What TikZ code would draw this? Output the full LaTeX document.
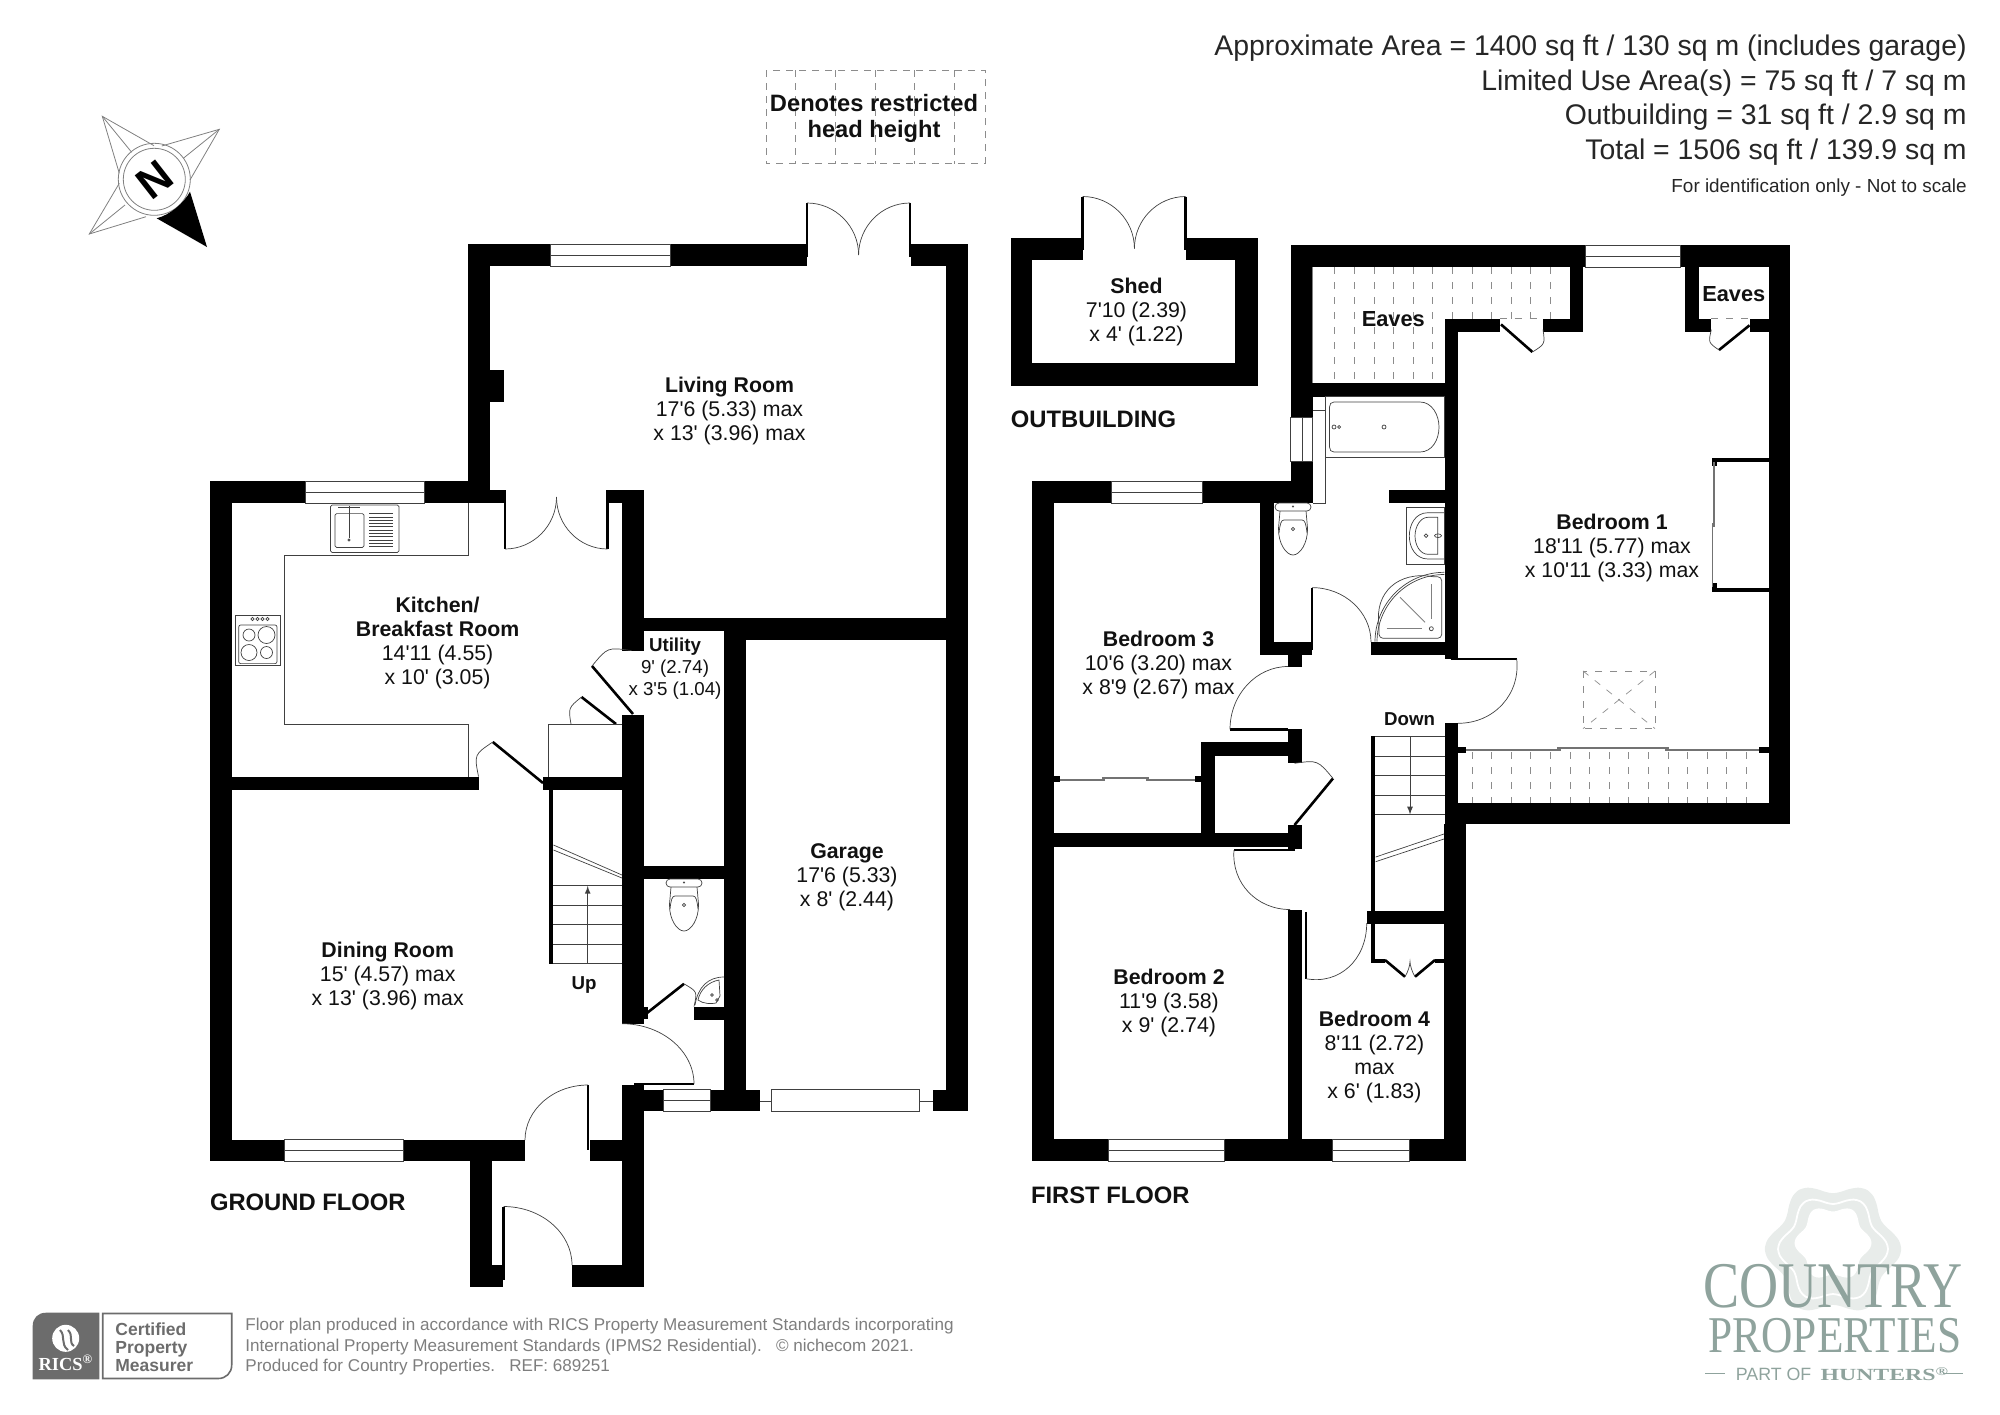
\documentclass[tikz,border=0pt]{standalone}
\usepackage{fontspec}
\usepackage{tikz}
\newfontfamily\planfont{Liberation Sans}
\newfontfamily\logofont{Liberation Serif}
\definecolor{LogoGreen}{HTML}{8FA39D}
\definecolor{LogoPale}{HTML}{E8ECEA}
\definecolor{BadgeGrey}{HTML}{6C6C6C}
\definecolor{FootGrey}{HTML}{7E7E7E}
\definecolor{FontColor}{HTML}{111111}
\newcommand\roomfont{\planfont\fontsize{10.65}{12}\selectfont}
\newcommand\smallroomfont{\planfont\fontsize{9.35}{11}\selectfont}
\newcommand\floorfont{\planfont\bfseries\fontsize{11.9}{14}\selectfont}
\newcommand\areafont{\planfont\fontsize{14.2}{17.2}\selectfont}
\newcommand\footfont{\planfont\fontsize{8.54}{10.2}\selectfont}
\newcommand\ft{\textquotesingle}
\tikzstyle{wall} = [fill=black]
\tikzstyle{thinline} = [draw=black!75, line width=0.35pt]
\tikzstyle{greyline} = [draw=black!50, line width=0.4pt]
\tikzstyle{leaf} = [draw=black, line width=1.3pt]
\tikzstyle{stairline} = [draw=black, line width=2pt]
\tikzstyle{slide} = [draw=black!55, line width=0.9pt]
\tikzstyle{eave} = [draw=black!45, line width=0.35pt, dash pattern=on 3.5pt off 4pt]
\tikzstyle{room} = [inner sep=0pt, align=center, text=FontColor, font=\roomfont, yshift=-1.25pt]
\tikzstyle{smallroom} = [inner sep=0pt, align=center, text=FontColor, font=\smallroomfont, yshift=-1.25pt]
\tikzstyle{tag} = [inner sep=0pt, text=FontColor, font=\planfont\bfseries\fontsize{9.35}{11}\selectfont]
\tikzstyle{floorname} = [inner sep=0pt, anchor=west, text=FontColor, font=\floorfont, yshift=-0.5pt]
\tikzstyle{area} = [inner sep=0pt, anchor=east, text=black!85, font=\areafont, yshift=-1.25pt]
\tikzstyle{foot} = [inner sep=0pt, anchor=west, text=FootGrey, font=\footfont, yshift=-1.25pt]
\newcommand\swing[6]{\draw[thinline] (#3,#4) .. controls ({#3+0.55*(#5-#1)},{#4+0.55*(#6-#2)}) and ({#5+0.55*(#3-#1)},{#6+0.55*(#4-#2)}) .. (#5,#6);}
\newcommand\swingd[6]{\draw[thinline] (#3,#4) .. controls ({#1+1.2*(0.5*(#3+#5)-#1)},{#2+1.2*(0.5*(#4+#6)-#2)}) .. (#5,#6);}
\newcommand\windowh[3]{\draw[thinline] (#1,#3) rectangle (#2,#3+22); \draw[thinline] (#1,#3+11) -- (#2,#3+11);}
\newcommand\toilet[2]{
\draw[thinline, rounded corners=2pt] (#1-18,#2) rectangle (#1+18,#2+8);
\draw[thinline] (#1-13,#2+8) -- (#1-14.5,#2+25) .. controls (#1-15,#2+40) and (#1-7,#2+52) .. (#1,#2+52) .. controls (#1+7,#2+52) and (#1+15,#2+40) .. (#1+14.5,#2+25) -- (#1+13,#2+8);
\draw[thinline] (#1-14,#2+30) .. controls (#1-13,#2+21) and (#1-12,#2+17) .. (#1-9,#2+17) -- (#1+9,#2+17) .. controls (#1+12,#2+17) and (#1+13,#2+21) .. (#1+14,#2+30);
\draw[thinline] (#1,#2+26) circle (1.6);
\fill[black!70] (#1,#2+3.5) circle (1.2);
}
\begin{document}
\begin{tikzpicture}[x=0.5pt, y=-0.5pt]
\useasboundingbox (0,0) rectangle (2000,1414);
\foreach \xa/\ya/\xb/\yb in {
468/244/550/266, 670/244/806.5/266, 910.6/244/968/266, 468/244/490/503,
209.6/481/305.5/503.3, 424/481/468/503.3, 490/490/504.5/503, 490/370/503.5/401.5,
607.5/490/644/503, 622/490/644/650.6, 622/715.4/644/1023.7, 644/1006.5/648/1019.4,
644/618/968/631, 746/618/968/640, 724.4/618/746.3/1090, 946/244/968/1111,
644/865.5/724.4/879, 694/1006.5/724.4/1020.3, 209.6/481/232/1161.3,
232/776.5/478.5/790.3, 543/776.5/622/790.3, 209.6/1139.8/284.6/1161.3, 403/1139.8/525/1161.3,
469.8/1161/492.2/1287, 469.8/1265/503/1287, 572/1265/644/1287, 622/1085/644/1287, 590/1140/622/1161,
644/1089.5/663.7/1111, 710.6/1089.5/760/1111, 933/1089.5/968/1111,
1010.5/237.7/1082.6/260, 1185.7/237.7/1257.8/260, 1010.5/237.7/1032.4/386, 1235.4/237.7/1257.8/386, 1010.5/363.4/1257.8/386,
1290.8/245/1585.8/266.7, 1680/245/1790.3/266.7, 1290.8/245/1312.8/417, 1290.8/461/1312.8/503,
1032.4/481.4/1111.4/503, 1202.4/481.4/1312.8/503, 1032.4/481.4/1053.9/1161.3,
1290.8/383/1444.6/396.8, 1570/245/1583/331.8, 1444.6/318.8/1499.5/331.8, 1543/318.8/1583/331.8,
1444.6/318.8/1458/659, 1685/245/1699/331.8, 1685/318.8/1711/331.8, 1749.5/318.8/1790.3/331.8,
1768.8/245/1790.3/824, 1458/803/1790.3/824, 1444.6/723.3/1458/824, 1444/824/1466/1161.3,
1260/503/1273.5/655, 1260/642/1312/655, 1288/655/1301.8/666.5, 1371/642/1458/655,
1288/729.4/1301.8/763.3, 1201.4/742.4/1301.8/755.5, 1201.4/742.4/1215/846.5,
1032.4/832.6/1301.8/846.5, 1288/825/1301.7/849.4, 1288/909.5/1301.7/1161.3,
1032.4/1139.4/1108.4/1161.3, 1224.5/1139.4/1332.3/1161.3, 1409.4/1139.4/1466/1161.3,
1366.7/911/1444/924, 1388.6/490/1444.6/503,
1712/457.5/1768.8/462, 1712/457.5/1717/466, 1712/587.6/1768.8/592, 1712/583/1717/592,
1053.9/776/1060/782, 1195/776/1201.4/782, 1458/747/1466/753, 1759/747/1768.8/753,
1371/959.3/1385/963.3, 1435/959.3/1445/963.3}
  \fill[wall] (\xa,\ya) rectangle (\xb,\yb);
\windowh{550}{670}{244}
\windowh{305.5}{424}{481}
\windowh{284.6}{403}{1139.8}
\windowh{663.7}{710.6}{1089.5}
\windowh{1585.8}{1680}{245}
\windowh{1111.4}{1202.4}{481.4}
\windowh{1108.4}{1224.5}{1139.4}
\windowh{1332.3}{1409.4}{1139.4}
\draw[thinline] (1290.8,417) rectangle (1312.8,461);
\draw[thinline] (1302,417) -- (1302,461);
\draw[thinline] (771.8,1089.5) rectangle (919.8,1111);
\draw[thinline] (760,1101) -- (771.8,1101);
\draw[thinline] (919.8,1101) -- (933,1101);
\draw[leaf] (807,203) -- (807,257);
\draw[leaf] (910,203) -- (910,257);
\swing{807}{255}{807}{203}{858.6}{255}
\swing{910}{255}{910}{203}{858.6}{255}
\draw[leaf] (505,490) -- (505,549);
\draw[leaf] (607.5,490) -- (607.5,549);
\swing{505}{497}{505}{549}{556.5}{497}
\swing{607.5}{497}{607.5}{549}{556.5}{497}
\draw[leaf] (633,714) -- (592,666);
\swingd{633}{714}{592}{666}{631.5}{650.6}
\draw[leaf] (616,724) -- (581.5,697);
\swingd{616}{724}{581.5}{697}{571}{724}
\draw[leaf] (543,783) -- (492.8,742);
\swingd{543}{783}{492.8}{742}{478.5}{776.5}
\draw[leaf] (647,1013) -- (684,983.8);
\swingd{647}{1013}{684}{983.8}{694}{1006.5}
\draw[leaf] (634,1084) -- (694,1084);
\swing{622}{1084}{694}{1084}{622}{1023.7}
\draw[leaf] (588,1085) -- (588,1150);
\swing{588}{1140}{588}{1085}{525}{1140}
\draw[leaf] (503.5,1206.5) -- (503.5,1280);
\swing{503.5}{1265}{503.5}{1206.5}{572}{1265}
\draw[leaf] (1082.6,196.5) -- (1082.6,250);
\draw[leaf] (1185.7,196.5) -- (1185.7,250);
\swing{1082.6}{248.5}{1082.6}{196.5}{1134.4}{248.5}
\swing{1185.7}{248.5}{1185.7}{196.5}{1134.4}{248.5}
\draw[leaf] (1312,587.6) -- (1312,650);
\swing{1312}{642}{1312}{587.6}{1371}{642}
\draw[leaf] (1451,659) -- (1516.7,659);
\swing{1451}{659}{1516.7}{659}{1458}{723.3}
\draw[leaf] (1230,729.4) -- (1288,729.4);
\swing{1288}{729.4}{1230}{729.4}{1288}{666.5}
\draw[leaf] (1294.5,825) -- (1333,778.4);
\swingd{1294.5}{825}{1333}{778.4}{1294.5}{763.3}
\draw[leaf] (1234,850) -- (1295,850);
\swing{1295}{850}{1234}{850}{1290}{909.5}
\draw[leaf] (1306,911.8) -- (1306,978.7);
\swing{1306}{911.8}{1306}{978.7}{1366.7}{923}
\draw[leaf] (1501,324.4) -- (1532.4,352);
\swingd{1501}{324.4}{1532.4}{352}{1543}{329.6}
\draw[leaf] (1749.5,325.3) -- (1719,350);
\swingd{1749.5}{325.3}{1719}{350}{1711.3}{329.6}
\draw[leaf] (1385,960) -- (1405,976.7);
\draw[leaf] (1435,960) -- (1415,976.7);
\draw[thinline] (1405,976.7) .. controls (1408,972) and (1410,965) .. (1410,961.7) .. controls (1410,965) and (1412,972) .. (1415,976.7);
\draw[stairline] (551,790) -- (551,963.6);
\foreach \y in {885.3,905,924.4,944.2,963.6}
  \draw[thinline] (553,\y) -- (622,\y);
\draw[thinline] (553.5,845) -- (622,875);
\draw[thinline] (553.5,850) -- (622,878);
\draw[thinline, -latex] (587.7,963.6) -- (587.7,886);
\draw[stairline] (1373,736) -- (1373,963);
\foreach \y in {736,756,775.4,795,814.4}
  \draw[thinline] (1375,\y) -- (1444.6,\y);
\draw[thinline, -latex] (1410,736) -- (1410,814.4);
\draw[thinline] (1375.6,857) -- (1444,834);
\draw[thinline] (1375.6,861.7) -- (1444,839);
\draw[thinline] (468,503) -- (468,555) -- (284,555) -- (284,724) -- (468,724) -- (468,776.5);
\draw[thinline] (622,724) -- (548.4,724) -- (548.4,776.5);
\draw[thinline, rounded corners=0.8pt] (330.5,505) rectangle (399,552.4);
\draw[thinline, rounded corners=0.8pt] (335,513.6) rectangle (364,547.5);
\foreach \y in {513.6,516.9,...,547.5}
  \draw[thinline] (369,\y) -- (393,\y);
\draw[thinline] (349,506) -- (349,538);
\draw[thinline] (338,507) -- (360,507);
\draw[thinline] (349,540) circle (1.2);
\draw[thinline] (235.6,615) rectangle (280,665);
\draw[thinline, rounded corners=1pt] (238.7,625) rectangle (277,663.6);
\foreach \x in {252.5,257.5,262.5,267.5}
  \draw[thinline] (\x,619) circle (1.6);
\draw[thinline] (249,635) circle (6);
\draw[thinline] (266.5,635) circle (8.5);
\draw[thinline] (249,652.5) circle (8);
\draw[thinline] (266.5,652.5) circle (6);
\toilet{684}{879}
\toilet{1293}{503}
\draw[thinline] (724,977) .. controls (708,977) and (698,987) .. (695,1005);
\draw[thinline] (719,980) .. controls (708,982) and (700,990) .. (698,1000) .. controls (703,1004) and (712,1004) .. (716,1003) -- (720,996) -- cycle;
\draw[thinline] (712,995) circle (1.4);
\draw[thinline] (717,1000) circle (1.4);
\draw[thinline] (1325.3,396.8) rectangle (1444.6,457.5);
\draw[thinline] (1312.8,410) -- (1325.3,410) -- (1325.3,503) -- (1312.8,503);
\draw[thinline] (1334,402) -- (1420,402) .. controls (1432,402) and (1439,415) .. (1439,427) .. controls (1439,440) and (1432,452) .. (1420,452) -- (1334,452) .. controls (1331,452) and (1329.5,450) .. (1329.5,447) -- (1329.5,407) .. controls (1329.5,404) and (1331,402) .. (1334,402) -- cycle;
\draw[thinline] (1384,427) circle (2);
\draw[thinline] (1334,427) circle (2);
\draw[thinline] (1339,427) circle (1.5);
\draw[thinline] (1406,507.3) rectangle (1444.3,564);
\draw[thinline] (1444.3,512.7) -- (1428,512.7) .. controls (1415,512.7) and (1409.3,525) .. (1409.3,536) .. controls (1409.3,548) and (1416,559) .. (1428,559) -- (1444.3,559);
\draw[thinline] (1437.7,517.3) -- (1428,517.3) .. controls (1420,517.3) and (1415,527) .. (1415,536) .. controls (1415,545) and (1420,554.3) .. (1428,554.3) -- (1437.7,554.3) -- cycle;
\draw[thinline] (1426,535.7) circle (1.8);
\draw[thinline] (1438,535.7) ellipse (3.5 and 1.8);
\swing{1444.3}{641.7}{1444.3}{572.3}{1375}{641.7}
\swing{1444.3}{641.7}{1444.3}{574.5}{1377}{641.7}
\draw[thinline, rounded corners=2pt] (1433,576.7) -- (1441.7,576.7) -- (1441.7,638.3) -- (1379,638.3) -- (1379,625);
\swing{1441.7}{636}{1433}{576.7}{1379}{625}
\draw[greyline] (1431.7,584.3) -- (1431.7,619);
\draw[greyline] (1400,597.3) -- (1425,622.3);
\draw[greyline] (1386.7,628.7) -- (1421.7,628.7);
\draw[thinline] (1431.3,628.7) circle (2);
\foreach \x in {1334.7,1354.3,...,1433}
  \draw[eave] (\x,267) -- (\x,383);
\foreach \x in {1452.4,1472,...,1560}
  \draw[eave] (\x,267) -- (\x,318.8);
\draw[eave] (1499.5,318.8) -- (1543,318.8);
\draw[eave] (1711,318.8) -- (1749.5,318.8);
\foreach \x in {1472,1491.6,...,1750}
  \draw[eave] (\x,752) -- (\x,803);
\draw[greyline] (1312.8,267) -- (1312.8,383);
\draw[slide] (1714,462) -- (1714,527);
\draw[slide] (1712.5,523) -- (1712.5,587);
\draw[slide] (1466,750) -- (1561,750);
\draw[slide] (1557,748) -- (1669,748);
\draw[slide] (1665,750) -- (1759,750);
\draw[slide] (1060,780) -- (1105,780);
\draw[slide] (1102,778) -- (1149,778);
\draw[slide] (1146,780) -- (1195,780);
\draw[eave] (1583,671) rectangle (1655,728.6);
\draw[eave] (1583,671) -- (1655,728.6);
\draw[eave] (1655,671) -- (1583,728.6);
\draw[eave, dash pattern=on 3.5pt off 3pt] (766,70) rectangle (985,163.6);
\foreach \x in {795,835.6,875,914.7,954.5}
  \draw[eave, dash pattern=on 3.5pt off 3pt] (\x,70) -- (\x,163.6);
\node[room, font=\planfont\bfseries\fontsize{11.85}{13}\selectfont] (restricted) at (874,116) {Denotes restricted\\head height};
\node[room] (living) at (729.5,408) {\textbf{Living Room}\\17\ft6 (5.33) max\\x 13\ft\ (3.96) max};
\node[room] (kitchen) at (437.6,640) {\textbf{Kitchen/}\\\textbf{Breakfast Room}\\14\ft11 (4.55)\\x 10\ft\ (3.05)};
\node[smallroom] (utility) at (675,666.5) {\textbf{Utility}\\9\ft\ (2.74)\\x 3\ft5 (1.04)};
\node[room] (dining) at (387.7,973) {\textbf{Dining Room}\\15\ft\ (4.57) max\\x 13\ft\ (3.96) max};
\node[room] (garage) at (847,875) {\textbf{Garage}\\17\ft6 (5.33)\\x 8\ft\ (2.44)};
\node[tag] (up) at (584,985) {Up};
\node[room] (shed) at (1136.5,309) {\textbf{Shed}\\7\ft10 (2.39)\\x 4\ft\ (1.22)};
\node[room] (bedone) at (1612,545) {\textbf{Bedroom 1}\\18\ft11 (5.77) max\\x 10\ft11 (3.33) max};
\node[room] (bedtwo) at (1169,1000.5) {\textbf{Bedroom 2}\\11\ft9 (3.58)\\x 9\ft\ (2.74)};
\node[room] (bedthree) at (1158.5,662) {\textbf{Bedroom 3}\\10\ft6 (3.20) max\\x 8\ft9 (2.67) max};
\node[room] (bedfour) at (1374.4,1054.5) {\textbf{Bedroom 4}\\8\ft11 (2.72)\\max\\x 6\ft\ (1.83)};
\node[tag, font=\planfont\bfseries\fontsize{10.9}{12}\selectfont] (eavesa) at (1393.3,319) {Eaves};
\node[tag, font=\planfont\bfseries\fontsize{10.9}{12}\selectfont] (eavesb) at (1733.8,294) {Eaves};
\node[tag] (down) at (1409.5,719) {Down};
\node[floorname] (ground) at (209.6,1201) {GROUND FLOOR};
\node[floorname] (first) at (1030.6,1194) {FIRST FLOOR};
\node[floorname] (outb) at (1010.5,418.5) {OUTBUILDING};
\node[area] (areaa) at (1967,46) {Approximate Area = 1400 sq ft / 130 sq m (includes garage)};
\node[area] (areab) at (1967,80.5) {Limited Use Area(s) = 75 sq ft / 7 sq m};
\node[area] (areac) at (1967,115) {Outbuilding = 31 sq ft / 2.9 sq m};
\node[area] (aread) at (1967,149.5) {Total = 1506 sq ft / 139.9 sq m};
\node[area, font=\planfont\fontsize{9.45}{11}\selectfont] (note) at (1967,185) {For identification only - Not to scale};
\draw[greyline] (154.3,179.3) circle (36);
\draw[greyline] (154.3,179.3) circle (31);
\foreach \tx/\ty/\ax/\ay/\bx/\by/\cx/\cy in {
102.3/116.3/154/145.7/119.3/173.3/131.7/152.3,
219.3/129.3/161.7/146/190/180/183.3/158.3,
89.3/234/119.3/183.3/146/216.7/125/205}
{
  \draw[greyline] (\ax,\ay) -- (\tx,\ty) -- (\bx,\by);
  \draw[greyline] (\tx,\ty) -- (\cx,\cy);
}
\fill[black] (207,247) -- (190,191.7) .. controls (184,203) and (170,215) .. (156.7,218.3) -- cycle;
\node[inner sep=0pt, rotate=38, font=\planfont\bfseries\fontsize{22}{22}\selectfont] (north) at (154.3,179.3) {N};
\fill[BadgeGrey] (32.7,1379.3) -- (32.7,1326) .. controls (32.7,1318) and (38,1312.7) .. (46,1312.7) -- (99.3,1312.7) -- (99.3,1379.3) -- cycle;
\draw[BadgeGrey, line width=0.8pt] (102.7,1378.5) -- (102.7,1313.5) -- (231.7,1313.5) -- (231.7,1365) .. controls (231.7,1373) and (226,1378.5) .. (218,1378.5) -- cycle;
\fill[white] (65.7,1338.3) circle (13.5);
\draw[BadgeGrey, line width=1pt] (60,1330) .. controls (66,1336) and (60,1344) .. (68,1350);
\draw[BadgeGrey, line width=1pt] (68,1330) .. controls (74,1336) and (68,1342) .. (74,1346);
\node[inner sep=0pt, text=white, font=\logofont\bfseries\fontsize{9.2}{11}\selectfont] (rics) at (66,1362.7) {RICS\textsuperscript{\textregistered}};
\node[inner sep=0pt, anchor=west, align=left, text=BadgeGrey, font=\planfont\bfseries\fontsize{8.75}{9}\selectfont] (certified) at (115,1347.3) {Certified\\Property\\Measurer};
\node[foot] (foota) at (245,1324) {Floor plan produced in accordance with RICS Property Measurement Standards incorporating};
\node[foot] (footb) at (245,1344.5) {International Property Measurement Standards (IPMS2 Residential).\ \ \ \textcopyright\ nichecom 2021.};
\node[foot] (footc) at (245,1365) {Produced for Country Properties.\ \ \ REF: 689251};
\fill[LogoPale] plot[smooth cycle, samples=48, domain=0:352.5] ({1833+62*(1+0.1*cos(6*\x))*cos(\x)},{1249+62*(1+0.1*cos(6*\x))*sin(\x)});
\draw[white, line width=0.9pt] plot[smooth cycle, samples=48, domain=0:352.5] ({1833+50*(1+0.1*cos(6*\x))*cos(\x)},{1249+50*(1+0.1*cos(6*\x))*sin(\x)});
\fill[white] plot[smooth cycle, samples=48, domain=0:352.5] ({1833+35*(1+0.1*cos(6*\x))*cos(\x)},{1243+35*(1+0.1*cos(6*\x))*sin(\x)});
\node[inner sep=0pt, text=LogoGreen, xscale=0.83, font=\logofont\fontsize{32.6}{33}\selectfont] (country) at (1833,1286) {COUNTRY};
\node[inner sep=0pt, text=LogoGreen, xscale=0.84, font=\logofont\fontsize{25.8}{26}\selectfont] (properties) at (1835,1336) {PROPERTIES};
\node[inner sep=0pt, anchor=east, text=LogoGreen, font=\planfont\fontsize{8.9}{10}\selectfont] (partof) at (1811.7,1374) {PART OF};
\node[inner sep=0pt, anchor=west, text=LogoGreen, xscale=1.4, font=\logofont\bfseries\fontsize{8.5}{10}\selectfont] (hunters) at (1820,1374) {HUNTERS\textsuperscript{\textregistered}};
\draw[LogoGreen, line width=0.5pt] (1705,1373) -- (1725,1373);
\draw[LogoGreen, line width=0.5pt] (1943,1373) -- (1963,1373);
\end{tikzpicture}
\end{document}
